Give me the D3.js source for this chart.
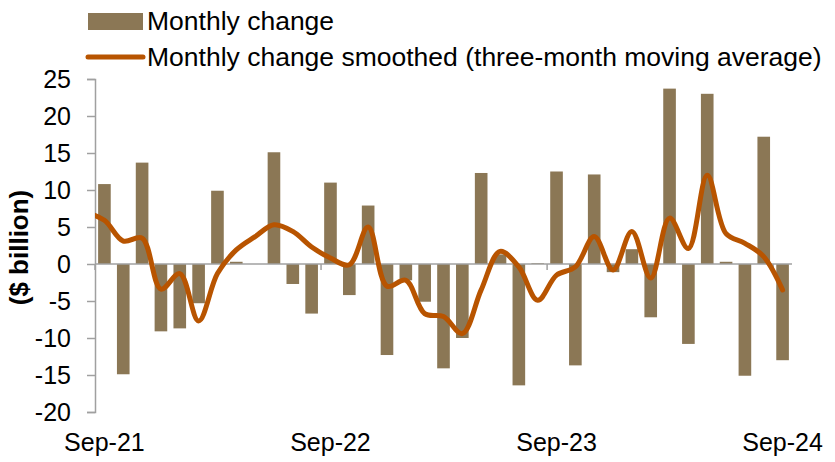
<!DOCTYPE html>
<html>
<head>
<meta charset="utf-8">
<script src="https://cdn.jsdelivr.net/npm/d3@7"></script>
<style>
  body { margin: 0; background: #fff; }
  svg { display: block; }
  text { font-family: Arial, "Liberation Sans", sans-serif; fill: #000; }
</style>
</head>
<body>
<div id="chart"></div>
<script>
const months = [
  'Sep-21', 'Oct-21', 'Nov-21', 'Dec-21', 'Jan-22', 'Feb-22', 'Mar-22', 'Apr-22', 'May-22',
  'Jun-22', 'Jul-22', 'Aug-22', 'Sep-22', 'Oct-22', 'Nov-22', 'Dec-22', 'Jan-23', 'Feb-23',
  'Mar-23', 'Apr-23', 'May-23', 'Jun-23', 'Jul-23', 'Aug-23', 'Sep-23', 'Oct-23', 'Nov-23',
  'Dec-23', 'Jan-24', 'Feb-24', 'Mar-24', 'Apr-24', 'May-24', 'Jun-24', 'Jul-24', 'Aug-24',
  'Sep-24'
];
const monthlyChange = [
  10.8, -14.9, 13.7, -9.1, -8.7, -5.3, 9.9, 0.3, 0.0,
  15.1, -2.7, -6.7, 11.0, -4.2, 7.9, -12.3, -2.2, -5.1,
  -14.1, -10.0, 12.3, 1.3, -16.4, 0.1, 12.5, -13.7, 12.1,
  -1.1, 2.0, -7.2, 23.7, -10.8, 23.0, 0.3, -15.1, 17.2,
  -13.0
];
// Aug-21 average sits just left of the axis; the line is clipped there
const leadAverage = 7.0;
const smoothed = [
  5.9, 3.1, 3.5, -3.4, -1.3, -7.7, -1.3, 1.9, 3.7,
  5.3, 4.4, 2.3, 0.8, -0.1, 5.0, -3.0, -2.2, -6.7,
  -7.1, -9.4, -3.5, 1.7, -0.4, -4.9, -1.5, -0.4, 3.7,
  -0.8, 4.4, -1.9, 6.2, 2.1, 12.0, 4.1, 2.8, 1.0,
  -3.5
];
const axisLabels = ['Sep-21', 'Sep-22', 'Sep-23', 'Sep-24'];
const yDomain = [-20, 25];

const width = 835;
const height = 462;
const area = { left: 95, right: 792, top: 79, bottom: 412 };
const barColor = '#8b7755';
const lineColor = '#b85400';
const axisColor = '#a0a0a0';
const fontSize = 25;

const svg = d3.select('#chart')
  .append('svg')
  .attr('width', width)
  .attr('height', height);

const xScale = d3.scaleBand()
  .domain(months)
  .range([area.left, area.right])
  .paddingInner(0.33)
  .paddingOuter(0.165);

const yScale = d3.scaleLinear()
  .domain(yDomain)
  .range([area.bottom, area.top]);

const step = xScale.step();
const cx = (m) => xScale(m) + xScale.bandwidth() / 2;

// bars
svg.append('g')
  .selectAll('rect')
  .data(months)
  .join('rect')
  .attr('x', (m) => xScale(m))
  .attr('width', xScale.bandwidth())
  .attr('y', (m, i) => yScale(Math.max(0, monthlyChange[i])))
  .attr('height', (m, i) => Math.abs(yScale(monthlyChange[i]) - yScale(0)))
  .attr('fill', barColor);

// y axis
const yAxis = svg.append('g')
  .attr('transform', `translate(${area.left},0)`)
  .call(d3.axisLeft(yScale)
    .tickValues(d3.range(-20, 26, 5))
    .tickFormat((d) => String(d))
    .tickSize(8)
    .tickPadding(16));
yAxis.select('.domain').attr('stroke', axisColor).attr('stroke-width', 1.5);
yAxis.selectAll('.tick line').attr('stroke', axisColor).attr('stroke-width', 1.5);
yAxis.selectAll('.tick text')
  .attr('font-size', fontSize)
  .attr('font-family', 'Arial, "Liberation Sans", sans-serif')
  .attr('fill', '#000');

// x axis along zero
const zeroY = yScale(0);
const xAxis = svg.append('g');
xAxis.append('line')
  .attr('x1', area.left).attr('x2', area.right)
  .attr('y1', zeroY).attr('y2', zeroY)
  .attr('stroke', axisColor).attr('stroke-width', 1.5);
xAxis.selectAll('line.tick')
  .data(axisLabels)
  .join('line')
  .attr('class', 'tick')
  .attr('x1', (m) => xScale(m) - xScale.paddingInner() * step / 2)
  .attr('x2', (m) => xScale(m) - xScale.paddingInner() * step / 2)
  .attr('y1', zeroY).attr('y2', zeroY + 6)
  .attr('stroke', axisColor).attr('stroke-width', 1.5);
xAxis.selectAll('text')
  .data(axisLabels)
  .join('text')
  .attr('x', (m) => cx(m))
  .attr('y', area.bottom + 39)
  .attr('text-anchor', 'middle')
  .attr('font-size', fontSize)
  .text((m) => m);

// smoothed line
svg.append('clipPath')
  .attr('id', 'plot-clip')
  .append('rect')
  .attr('x', area.left).attr('y', 0)
  .attr('width', area.right - area.left + 10).attr('height', height);

const linePoints = [[cx(months[0]) - step, leadAverage]]
  .concat(months.map((m, i) => [cx(m), smoothed[i]]));

const line = d3.line()
  .x((d) => d[0])
  .y((d) => yScale(d[1]))
  .curve(d3.curveCatmullRom.alpha(0.5));

svg.append('path')
  .datum(linePoints)
  .attr('clip-path', 'url(#plot-clip)')
  .attr('d', line)
  .attr('fill', 'none')
  .attr('stroke', lineColor)
  .attr('stroke-width', 5)
  .attr('stroke-linecap', 'round')
  .attr('stroke-linejoin', 'round');

// y title
svg.append('text')
  .attr('transform', `translate(28,${(area.top + area.bottom) / 2 + 2}) rotate(-90)`)
  .attr('text-anchor', 'middle')
  .attr('font-size', 26)
  .attr('font-weight', 'bold')
  .text('($ billion)');

// legend
const legend = svg.append('g');
legend.append('rect')
  .attr('x', 88).attr('y', 13)
  .attr('width', 55).attr('height', 17)
  .attr('fill', barColor);
legend.append('text')
  .attr('x', 147).attr('y', 21).attr('dy', '0.35em')
  .attr('font-size', 26.5)
  .text('Monthly change');
legend.append('line')
  .attr('x1', 88).attr('x2', 143)
  .attr('y1', 57).attr('y2', 57)
  .attr('stroke', lineColor).attr('stroke-width', 5)
  .attr('stroke-linecap', 'round');
legend.append('text')
  .attr('x', 147).attr('y', 57).attr('dy', '0.35em')
  .attr('font-size', 26.5)
  .text('Monthly change smoothed (three-month moving average)');
</script>
</body>
</html>
